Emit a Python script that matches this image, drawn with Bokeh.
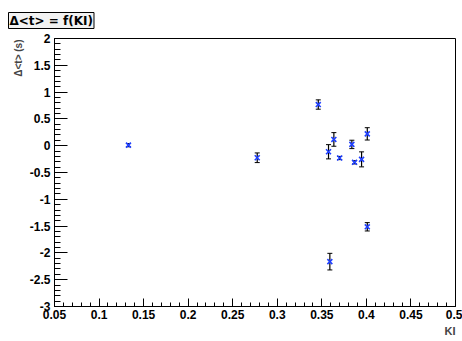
from bokeh.plotting import figure
from bokeh.models import (ColumnDataSource, Whisker, TeeHead, Title,
                          FixedTicker, Range1d)
from bokeh.embed import file_html
from bokeh.resources import INLINE

# data
ki = [0.133, 0.2775, 0.346, 0.3635, 0.3575, 0.370, 0.3837, 0.3867, 0.3946, 0.401, 0.401, 0.359]
dt = [0.01, -0.225, 0.768, 0.117, -0.113, -0.23, 0.024, -0.31, -0.255, 0.221, -1.513, -2.163]
err = [0.03, 0.09, 0.087, 0.127, 0.133, 0.03, 0.078, 0.03, 0.14, 0.115, 0.078, 0.155]

title_text = "\u0394<t> = f(KI)"
y_title = "\u0394<t> (s)"
x_title = "KI"
x_major = [0.05, 0.1, 0.15, 0.2, 0.25, 0.3, 0.35, 0.4, 0.45, 0.5]
y_major = [-3, -2.5, -2, -1.5, -1, -0.5, 0, 0.5, 1, 1.5, 2]

W, H = 462, 341
FONT = "Liberation Sans"

p = figure(width=W, height=H, output_backend="svg", toolbar_location=None,
           x_range=Range1d(0.05, 0.5), y_range=Range1d(-3, 2),
           min_border_left=54, min_border_right=7, min_border_top=38,
           min_border_bottom=35)
p.grid.visible = False
p.outline_line_color = "black"
p.outline_line_width = 1
p.background_fill_color = "white"
p.border_fill_color = "white"

xminor = [round(0.05 + 0.01 * i, 4) for i in range(46)]
yminor = [round(-3 + 0.1 * i, 4) for i in range(51)]
p.xaxis.ticker = FixedTicker(ticks=x_major, minor_ticks=xminor)
p.yaxis.ticker = FixedTicker(ticks=y_major, minor_ticks=yminor)
p.xaxis.major_label_overrides = {v: ("%g" % v) for v in x_major}
p.yaxis.major_label_overrides = {v: ("%g" % v) for v in y_major}

for ax in (p.xaxis[0], p.yaxis[0]):
    ax.major_tick_out = 0
    ax.minor_tick_out = 0
    ax.axis_line_color = "black"
    ax.major_tick_line_color = "black"
    ax.minor_tick_line_color = "black"
    ax.major_label_text_font = FONT
    ax.major_label_text_font_style = "bold"
    ax.major_label_text_font_size = "12px"
    ax.major_label_text_color = "black"
p.xaxis.major_tick_in = 8
p.xaxis.minor_tick_in = 4
p.yaxis.major_tick_in = 13
p.yaxis.minor_tick_in = 6
p.xaxis.major_label_standoff = 3
p.yaxis.major_label_standoff = 4

src = ColumnDataSource(dict(x=ki, y=dt,
                            lo=[a - b for a, b in zip(dt, err)],
                            hi=[a + b for a, b in zip(dt, err)]))
wh = Whisker(base="x", lower="lo", upper="hi", source=src, line_color="black",
             line_width=1.2,
             lower_head=TeeHead(size=5, line_color="black"),
             upper_head=TeeHead(size=5, line_color="black"))
p.add_layout(wh)
p.scatter("x", "y", source=src, marker="x", size=7, line_width=1.6,
          line_color="#2040ff")

# axis titles as outer Title annotations
ylab = Title(text=y_title, align="right", text_font=FONT, text_font_style="bold",
             text_font_size="10px", standoff=5, offset=1)
p.add_layout(ylab, "left")
xlab = Title(text=x_title, align="right", text_font=FONT, text_font_style="bold",
             text_font_size="11px", standoff=3)
p.add_layout(xlab, "below")

# boxed title
ttl = Title(text=title_text, align="left", offset=-46, standoff=20,
            text_font="DejaVu Sans", text_font_style="bold", text_font_size="12px",
            text_color="black", background_fill_color="#f2f2f2",
            border_line_color="black", padding=1)
p.add_layout(ttl, "above")

open("out.html", "w").write(file_html(p, INLINE))
